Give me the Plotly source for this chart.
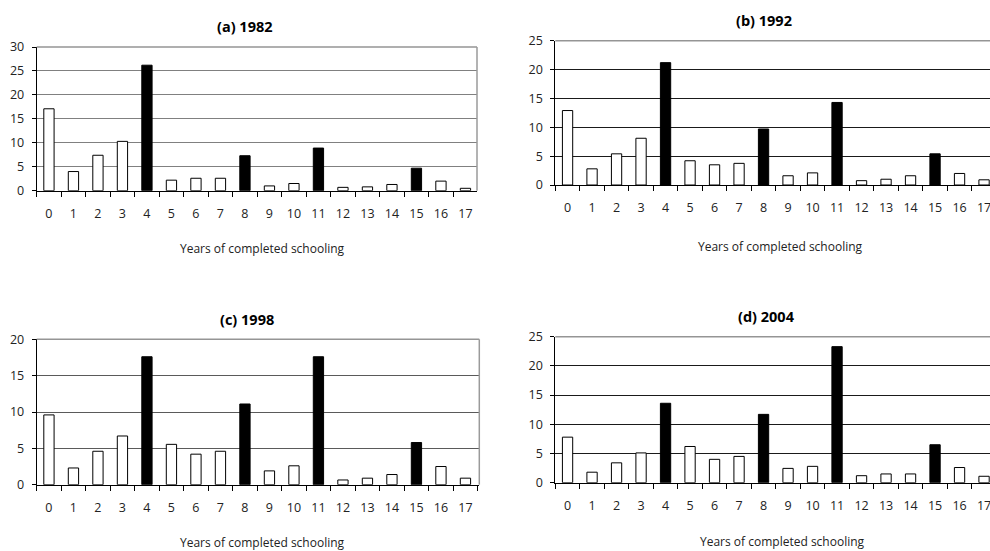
import plotly.graph_objects as go

years = [str(i) for i in range(18)]
highlight = {"4", "8", "11", "15"}

vals_1982 = [17.1, 4.0, 7.4, 10.3, 26.2, 2.2, 2.6, 2.6, 7.3, 1.0, 1.5, 8.9, 0.7, 0.8, 1.3, 4.7, 2.0, 0.5]
vals_1992 = [12.9, 2.8, 5.4, 8.1, 21.2, 4.2, 3.5, 3.75, 9.7, 1.6, 2.1, 14.3, 0.75, 1.0, 1.6, 5.4, 2.0, 0.9]
vals_1998 = [9.6, 2.3, 4.6, 6.7, 17.6, 5.55, 4.2, 4.6, 11.1, 1.9, 2.6, 17.6, 0.65, 0.9, 1.4, 5.8, 2.5, 0.9]
vals_2004 = [7.8, 1.8, 3.4, 5.1, 13.6, 6.2, 4.0, 4.5, 11.7, 2.45, 2.8, 23.3, 1.2, 1.5, 1.5, 6.5, 2.6, 1.1]

titles = ["(a) 1982", "(b) 1992", "(c) 1998", "(d) 2004"]
ymax = [30, 25, 20, 25]
xtitle = "Years of completed schooling"

W, H = 990, 551
FONT = "Open Sans"

def fy(px):
    return 1 - px / H

def fx(px):
    return px / W

# panel geometry in pixels: (left, right, top, bottom)
panels = [
    (36.7, 477.0, 47.0, 190.7),
    (555.3, 990.0, 40.7, 185.0),
    (36.7, 479.3, 339.3, 484.7),
    (555.3, 990.0, 336.7, 482.7),
]
title_pos = [(245, 26), (764, 21), (247, 319), (766, 316)]
xtitle_pos = [(262, 248), (780, 246), (262, 542), (782, 541)]
grid_colors = ["#808080", "#1a1a1a", "#5a5a5a", "#1a1a1a"]

data = [vals_1982, vals_1992, vals_1998, vals_2004]

fig = go.Figure()
annotations = []
shapes = []
for i, vals in enumerate(data):
    n = "" if i == 0 else str(i + 1)
    colors = ["black" if y in highlight else "white" for y in years]
    fig.add_trace(go.Bar(
        x=years, y=vals, xaxis="x" + n, yaxis="y" + n,
        marker=dict(color=colors, line=dict(color="black", width=1)),
        width=0.42, showlegend=False, hoverinfo="skip",
    ))
    l, r, t, b = panels[i]
    px_per_cat = 24.5
    xr_right = -0.5 + (r - l) / px_per_cat
    fig.update_layout(**{
        "xaxis" + n: dict(
            domain=[fx(l), fx(r)], anchor="y" + n, type="category",
            range=[-0.5, xr_right], tickson="boundaries", ticks="outside",
            ticklen=5, tickcolor="black", showline=True, linecolor="black",
            linewidth=1, showgrid=False, tickfont=dict(size=12.5, color="#222", family=FONT),
            ticklabelstandoff=11, fixedrange=True, automargin=False,
        ),
        "yaxis" + n: dict(
            domain=[fy(b), fy(t)], anchor="x" + n, range=[0, ymax[i]],
            dtick=5, ticks="outside", ticklen=4, tickcolor="black",
            showline=True, linecolor="black", linewidth=1,
            showgrid=True, gridcolor=grid_colors[i], gridwidth=1.2,
            zeroline=False, tickfont=dict(size=12.5, color="#222", family=FONT),
            ticklabelstandoff=5, fixedrange=True, automargin=False,
        ),
    })
    # lighter top border line of the plot area
    shapes.append(dict(type="line", xref="x" + n + " domain", yref="y" + n + " domain",
                       x0=0, x1=1, y0=1, y1=1, line=dict(color="#959595", width=1.6)))
    if i in (0, 2):
        shapes.append(dict(type="line", xref="x" + n + " domain", yref="y" + n + " domain",
                           x0=1, x1=1, y0=0, y1=1, line=dict(color="#9a9a9a", width=1.5)))
    tx, ty = title_pos[i]
    annotations.append(dict(text="<b>" + titles[i] + "</b>", x=fx(tx), y=fy(ty), xref="paper", yref="paper",
                            showarrow=False, xanchor="center", yanchor="middle",
                            font=dict(size=14.5, color="black", family=FONT)))
    xx, xy = xtitle_pos[i]
    annotations.append(dict(text=xtitle, x=fx(xx), y=fy(xy), xref="paper", yref="paper",
                            showarrow=False, xanchor="center", yanchor="middle",
                            font=dict(size=12, color="#222", family=FONT)))

fig.update_layout(
    width=W, height=H, margin=dict(l=0, r=0, t=0, b=0, pad=0),
    paper_bgcolor="white", plot_bgcolor="white",
    annotations=annotations, shapes=shapes, bargap=0.58,
    font=dict(family=FONT),
)

fig.write_html(
    "out.html",
    config={"displayModeBar": False},
    post_script="document.body.style.margin='0';document.body.style.overflow='hidden';",
)
